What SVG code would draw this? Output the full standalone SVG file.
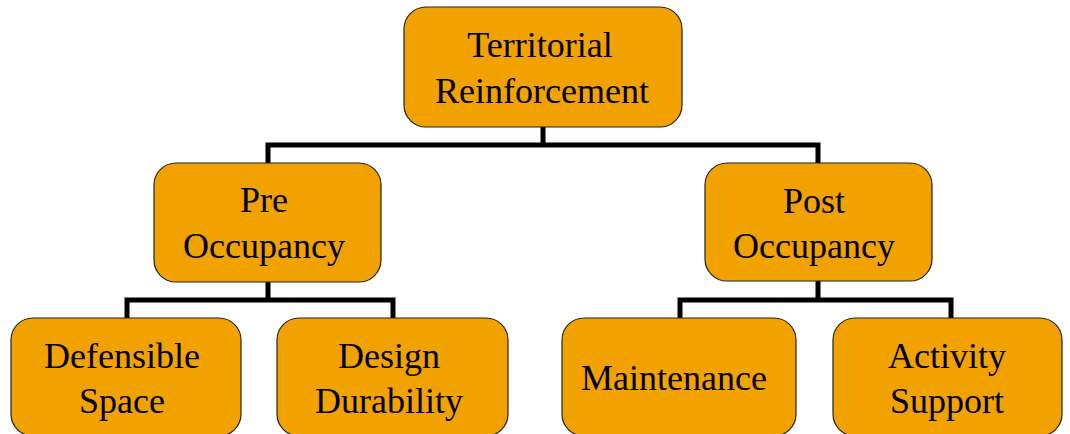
<svg xmlns="http://www.w3.org/2000/svg" width="1070" height="434" viewBox="0 0 1070 434">
<style>
.box{fill:#F2A200;stroke:#222;stroke-width:1.2}
.t{font-family:"Liberation Serif","Times New Roman",serif;font-size:36px;fill:#000;text-anchor:middle}
.c{fill:none;stroke:#000;stroke-width:5;stroke-linecap:butt;stroke-linejoin:miter}
</style>
<rect width="1070" height="434" fill="#fff"/>
<g id="connectors">
<path class="c" d="M543,127 V145 M265.5,145 H820.5 M268,145 V163 M818,145 V163"/>
<path class="c" d="M268,282 V300 M124.5,300 H395.5 M127,300 V318 M393,300 V318"/>
<path class="c" d="M818,281 V300 M677.5,300 H953.5 M680,300 V318 M951,300 V318"/>
</g>
<g id="territorial">
<rect class="box" x="404" y="7" width="278" height="120" rx="22"/>
<text class="t" x="540" y="57">Territorial</text>
<text class="t" x="542" y="103">Reinforcement</text>
</g>
<g id="pre">
<rect class="box" x="154" y="163" width="227" height="119" rx="22"/>
<text class="t" x="264" y="212">Pre</text>
<text class="t" x="264" y="258">Occupancy</text>
</g>
<g id="post">
<rect class="box" x="705" y="163" width="227" height="118" rx="22"/>
<text class="t" x="814" y="213">Post</text>
<text class="t" x="814" y="258">Occupancy</text>
</g>
<g id="defensible">
<rect class="box" x="11" y="318" width="230" height="118" rx="22"/>
<text class="t" x="122" y="368">Defensible</text>
<text class="t" x="122" y="413">Space</text>
</g>
<g id="design">
<rect class="box" x="277" y="318" width="231" height="118" rx="22"/>
<text class="t" x="389" y="368">Design</text>
<text class="t" x="389" y="413">Durability</text>
</g>
<g id="maintenance">
<rect class="box" x="562" y="318" width="234" height="118" rx="22"/>
<text class="t" x="674" y="390">Maintenance</text>
</g>
<g id="activity">
<rect class="box" x="833" y="318" width="229" height="118" rx="22"/>
<text class="t" x="947" y="368">Activity</text>
<text class="t" x="947" y="413">Support</text>
</g>
</svg>
